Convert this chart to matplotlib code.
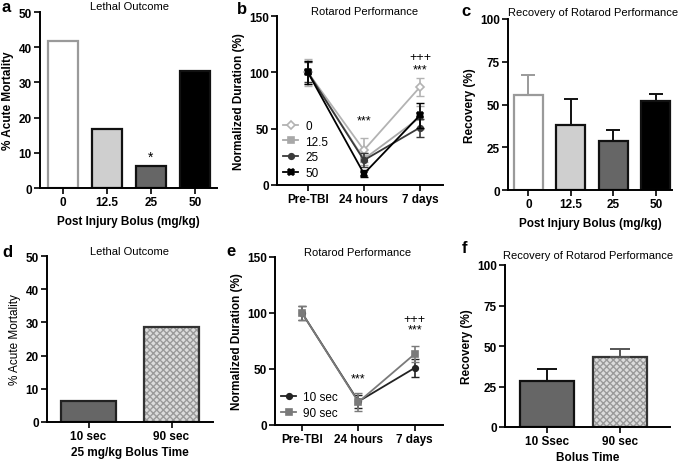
import matplotlib
matplotlib.use("Agg")
import matplotlib.pyplot as plt
import numpy as np

plt.rcParams['font.family'] = ['Liberation Sans', 'DejaVu Sans']

# panel a - lethal outcome by dose
doses = ['0', '12.5', '25', '50']
mortality = [41.7, 16.7, 6.25, 33.3]

# panel b - rotarod by dose
timepoints = ['Pre-TBI', '24 hours', '7 days']
rot_0 = [100, 31, 87]
rot_0_err = [12, 11, 8]
rot_125 = [100, 23, 60]
rot_125_err = [10, 5, 10]
rot_25 = [100, 22, 51]
rot_25_err = [9, 6, 8]
rot_50 = [100, 10, 62]
rot_50_err = [10, 3, 11]

# panel c - recovery by dose
recovery = [55.5, 38, 28.5, 52]
recovery_err = [12, 15, 6.5, 4]

# panel d - lethal outcome by bolus time
bolus = ['10 sec', '90 sec']
mortality_bolus = [6.25, 28.6]

# panel e - rotarod by bolus time
rot_10s = [100, 21, 51]
rot_10s_err = [6, 6, 8]
rot_90s = [100, 20.5, 63.5]
rot_90s_err = [6, 8, 7]

# panel f - recovery by bolus time
bolus_f = ['10 Ssec', '90 sec']
recovery_bolus = [28.3, 43.3]
recovery_bolus_err = [7.5, 5]

W, H = 680, 464
fig = plt.figure(figsize=(6.8, 4.64), dpi=100)


def px_axes(l, r, t, b):
    return fig.add_axes([l / W, 1 - b / H, (r - l) / W, (b - t) / H])


def style(ax):
    for s in ['top', 'right']:
        ax.spines[s].set_visible(False)
    for s in ['left', 'bottom']:
        ax.spines[s].set_linewidth(1.4)
    ax.tick_params(width=1.2, length=4, labelsize=8.5, pad=2)
    for lab in ax.get_xticklabels() + ax.get_yticklabels():
        lab.set_fontweight('bold')


def ptext(x, y, s, **kw):
    fig.text(x / W, 1 - y / H, s, **kw)


def checker_bar(ax, x, h, w):
    ax.bar(x, h, w, color='#dcdcdc', hatch='xxxxx', edgecolor='#9a9a9a', lw=0)
    ax.bar(x, h, w, fill=False, edgecolor='#333333', lw=1.6)


def line_series(ax, x, y, err, color, marker, ms, label, mfc=None):
    ax.errorbar(x, y, yerr=err, fmt='none', ecolor=color, capsize=3, elinewidth=1.2)
    ax.plot(x, y, color=color, marker=marker, ms=ms, lw=1.3, label=label,
            mfc=mfc if mfc else color, mec=color, mew=1.2)


lab_kw = dict(fontsize=8.5, fontweight='bold')
title_kw = dict(fontsize=8, ha='center', va='center')
letter_kw = dict(fontsize=12, fontweight='bold', va='center', ha='left')
leg_kw = dict(loc='lower left', frameon=False, fontsize=8.5, handlelength=1.3,
              labelspacing=0.32, borderaxespad=0.1, handletextpad=0.6)

# ---- a
ax = px_axes(40, 217, 13, 189)
x = np.arange(len(doses))
faces = ['white', '#cfcfcf', '#666666', '#000000']
edges = ['#9a9a9a', '#111111', '#111111', '#111111']
ax.bar(x, mortality, 0.68, color=faces, edgecolor=edges, linewidth=1.6)
ax.set_xlim(-0.52, 3.5)
ax.set_ylim(0, 50)
ax.set_yticks(np.arange(0, 51, 10))
ax.set_xticks(x)
ax.set_xticklabels(doses)
ax.set_xlabel('Post Injury Bolus (mg/kg)', labelpad=5, **lab_kw)
ax.set_ylabel('% Acute Mortality', labelpad=3, **lab_kw)
ax.text(2, 9, '*', ha='center', va='center', fontsize=10)
style(ax)

# ---- b
ax = px_axes(277, 443, 17, 186)
x = np.arange(len(timepoints))
line_series(ax, x, rot_0, rot_0_err, '#b3b3b3', 'D', 4.5, '0', mfc='white')
line_series(ax, x, rot_125, rot_125_err, '#a8a8a8', 's', 4, '12.5')
line_series(ax, x, rot_25, rot_25_err, '#3a3a3a', 'o', 4, '25')
line_series(ax, x, rot_50, rot_50_err, '#000000', 'X', 5, '50')
ax.set_xlim(-0.55, 2.41)
ax.set_ylim(0, 150)
ax.set_yticks([0, 50, 100, 150])
ax.set_xticks(x)
ax.set_xticklabels(timepoints)
ax.set_ylabel('Normalized Duration (%)', labelpad=3, **lab_kw)
ax.text(1, 57, '***', ha='center', va='center', fontsize=9)
ax.text(2, 114, '+++', ha='center', va='center', fontsize=9)
ax.text(2, 103, '***', ha='center', va='center', fontsize=9)
ax.legend(bbox_to_anchor=(0.0, 0.0), **leg_kw)
style(ax)

# ---- c
ax = px_axes(508, 672, 20, 191)
x = np.arange(len(doses))
ax.bar(x, recovery, 0.68, color=faces, edgecolor=edges, linewidth=1.6)
err_cols = ['#9a9a9a', '#111111', '#111111', '#111111']
for i in range(len(doses)):
    ax.errorbar(x[i], recovery[i], yerr=[[0], [recovery_err[i]]], color=err_cols[i],
                capsize=5, lw=1.4, capthick=1.4)
ax.set_xlim(-0.48, 3.38)
ax.set_ylim(0, 100)
ax.set_yticks(np.arange(0, 101, 25))
ax.set_xticks(x)
ax.set_xticklabels(doses)
ax.set_xlabel('Post Injury Bolus (mg/kg)', labelpad=5, **lab_kw)
ax.set_ylabel('Recovery (%)', labelpad=3, **lab_kw)
style(ax)

# ---- d
ax = px_axes(47, 213, 257, 423)
x = np.arange(len(bolus))
ax.bar(x[0], mortality_bolus[0], 0.67, color='#666666', edgecolor='#222222', lw=1.6)
checker_bar(ax, x[1], mortality_bolus[1], 0.67)
ax.set_xlim(-0.5, 1.5)
ax.set_ylim(0, 50)
ax.set_yticks(np.arange(0, 51, 10))
ax.set_xticks(x)
ax.set_xticklabels(bolus)
ax.set_xlabel('25 mg/kg Bolus Time', labelpad=3, **lab_kw)
ax.set_ylabel('% Acute Mortality', labelpad=3, fontsize=8.5)
style(ax)

# ---- e
ax = px_axes(275, 443, 258, 426)
x = np.arange(len(timepoints))
line_series(ax, x, rot_10s, rot_10s_err, '#222222', 'o', 4, '10 sec')
line_series(ax, x, rot_90s, rot_90s_err, '#7a7a7a', 's', 5, '90 sec')
ax.set_xlim(-0.48, 2.5)
ax.set_ylim(0, 150)
ax.set_yticks([0, 50, 100, 150])
ax.set_xticks(x)
ax.set_xticklabels(timepoints)
ax.set_ylabel('Normalized Duration (%)', labelpad=3, **lab_kw)
ax.text(1, 42, '***', ha='center', va='center', fontsize=9)
ax.text(2, 95, '+++', ha='center', va='center', fontsize=9)
ax.text(2, 85, '***', ha='center', va='center', fontsize=9)
ax.legend(bbox_to_anchor=(0.0, 0.0), **leg_kw)
style(ax)

# ---- f
ax = px_axes(505, 670, 266, 428)
x = np.arange(len(bolus_f))
ax.errorbar(x[0], recovery_bolus[0], yerr=[[0], [recovery_bolus_err[0]]],
            color='#111111', capsize=7, lw=1.4, capthick=1.4)
ax.errorbar(x[1], recovery_bolus[1], yerr=[[0], [recovery_bolus_err[1]]],
            color='#555555', capsize=7, lw=1.4, capthick=1.4)
ax.bar(x[0], recovery_bolus[0], 0.74, color='#666666', edgecolor='#111111', lw=1.6)
checker_bar(ax, x[1], recovery_bolus[1], 0.74)
ax.set_xlim(-0.575, 1.68)
ax.set_ylim(0, 100)
ax.set_yticks(np.arange(0, 101, 25))
ax.set_xticks(x)
ax.set_xticklabels(bolus_f)
ax.set_xlabel('Bolus Time', labelpad=3, **lab_kw)
ax.set_ylabel('Recovery (%)', labelpad=3, **lab_kw)
style(ax)

# titles and panel letters
ptext(130, 7, 'Lethal Outcome', **title_kw)
ptext(365, 12, 'Rotarod Performance', **title_kw)
ptext(593, 13, 'Recovery of Rotarod Performance', **title_kw)
ptext(130, 252, 'Lethal Outcome', **title_kw)
ptext(358, 253, 'Rotarod Performance', **title_kw)
ptext(588, 256, 'Recovery of Rotarod Performance', **title_kw)

ptext(2, 8, 'a', **letter_kw)
ptext(237, 10, 'b', **letter_kw)
ptext(461, 11, 'c', **letter_kw)
ptext(2, 253, 'd', **letter_kw)
ptext(226, 252, 'e', **letter_kw)
ptext(462, 249, 'f', **letter_kw)

fig.savefig('out.png', dpi=100)
